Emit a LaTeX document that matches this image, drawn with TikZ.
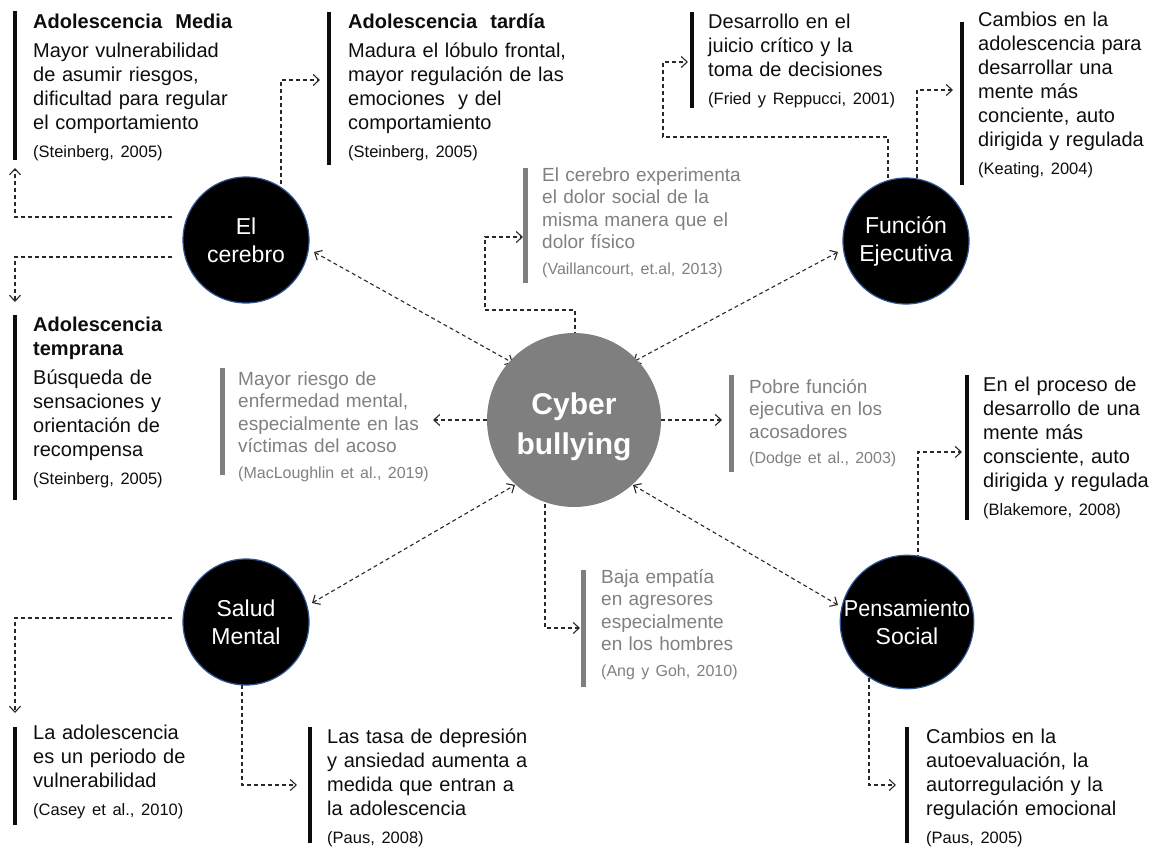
\documentclass[tikz,border=0pt]{standalone}
\usepackage{fontspec}
\usepackage{graphicx}
\setmainfont{Liberation Sans}
\usetikzlibrary{arrows.meta,calc}
\definecolor{ctext}{RGB}{13,13,13}
\definecolor{cgtext}{RGB}{128,128,128}
\definecolor{cgbar}{RGB}{127,127,127}
\definecolor{cgray}{RGB}{127,127,127}
\definecolor{cblue}{RGB}{47,85,151}
\definecolor{cline}{RGB}{40,40,40}
\newcommand\fsz[2]{\fontsize{#1}{#2}\selectfont}
\newcommand\ttl[1]{{\bfseries #1\par}\vspace{5pt}}
\newcommand\cit[1]{\par\vspace{4pt}{\fsz{16.5}{24}#1\par}}
\newcommand\gcit[1]{\par\vspace{3pt}{\fsz{16}{22.5}#1\par}}
\pgfdeclarelayer{bg}
\pgfsetlayers{bg,main}
\begin{document}
\begin{tikzpicture}[x=1pt,y=-1pt,
  circ/.style={circle, fill=black, draw=cblue, line width=1.2pt, minimum size=126pt, inner sep=0pt, text=white, align=center, font=\fsz{23}{28}},
  cyb/.style={circle, fill=cgray, minimum size=174pt, inner sep=0pt},
  cybtext/.style={text=white, align=center, inner sep=0pt, font=\bfseries\fsz{30}{40}},
  blk/.style={anchor=base west, inner sep=0pt, text width=330pt, align=left, font=\fsz{20}{24}, text=ctext},
  gblk/.style={blk, font=\fsz{19}{22.5}, text=cgtext},
  bar/.style={line width=4pt, draw=ctext},
  gbar/.style={line width=5pt, draw=cgbar},
  tip/.tip={Straight Barb[length=6pt,width=11pt]},
  conn/.style={draw=cline, line width=1.1pt, dash pattern=on 4pt off 3pt, -tip},
  dconn/.style={conn, tip-tip}]
\useasboundingbox (0,0) rectangle (1165,849);

% circles
\node[circ] (cer) at (246,240) {El\\cerebro};
\node[circ] (fun) at (906,241) {Función\\Ejecutiva};
\node[circ] (sal) at (246,622) {Salud\\Mental};
\node[circ] (pen) at (907,622) {\scalebox{0.94}[1]{Pensamiento}\\Social};
\node[cyb] (cyb) at (574,420) {};
\node[cybtext] (cybt) at ($(cyb.center)+(0,7)$) {Cyber\\bullying};

% text blocks
\node[blk] (b1) at (33,28) {\ttl{Adolescencia\ \ Media}Mayor vulnerabilidad\\de asumir riesgos,\\dificultad para regular\\el comportamiento\cit{(Steinberg, 2005)}};
\node[blk] (b2) at (348,28) {\ttl{Adolescencia\ \ tardía}Madura el lóbulo frontal,\\mayor regulación de las\\emociones\ \ y del\\comportamiento\cit{(Steinberg, 2005)}};
\node[blk] (b3) at (708,28) {Desarrollo en el\\juicio crítico y la\\toma de decisiones\cit{(Fried y Reppucci, 2001)}};
\node[blk] (b4) at (978,26) {Cambios en la\\adolescencia para\\desarrollar una\\mente más\\conciente, auto\\dirigida y regulada\cit{(Keating, 2004)}};
\node[gblk] (b5) at (542,181) {El cerebro experimenta\\el dolor social de la\\misma manera que el\\dolor físico\gcit{(Vaillancourt, et.al, 2013)}};
\node[blk] (b6) at (33,331) {\ttl{Adolescencia\\temprana}Búsqueda de\\sensaciones y\\orientación de\\recompensa\cit{(Steinberg, 2005)}};
\node[gblk] (b7) at (238,385) {Mayor riesgo de\\enfermedad mental,\\especialmente en las\\víctimas del acoso\gcit{(MacLoughlin et al., 2019)}};
\node[gblk] (b8) at (749,393) {Pobre función\\ejecutiva en los\\acosadores\gcit{(Dodge et al., 2003)}};
\node[blk] (b9) at (983,391) {En el proceso de\\desarrollo de una\\mente más\\consciente, auto\\dirigida y regulada\cit{(Blakemore, 2008)}};
\node[gblk] (b10) at (601,583) {Baja empatía\\en agresores\\especialmente\\en los hombres\gcit{(Ang y Goh, 2010)}};
\node[blk] (b11) at (33,739) {La adolescencia\\es un periodo de\\vulnerabilidad\cit{(Casey et al., 2010)}};
\node[blk] (b12) at (327,743) {Las tasa de depresión\\y ansiedad aumenta a\\medida que entran a\\la adolescencia\cit{(Paus, 2008)}};
\node[blk] (b13) at (926,743) {Cambios en la\\autoevaluación, la\\autorregulación y la\\regulación emocional\cit{(Paus, 2005)}};

% bars
\draw[bar] (15,11) -- (15,160);
\draw[bar] (329,12) -- (329,165);
\draw[bar] (692,12) -- (692,108);
\draw[bar] (962,22) -- (962,185);
\draw[gbar] (525,168) -- (525,283);
\draw[bar] (15,315) -- (15,500);
\draw[gbar] (222,368) -- (222,475);
\draw[gbar] (731,375) -- (731,472);
\draw[bar] (967,375) -- (967,520);
\draw[gbar] (583,570) -- (583,687);
\draw[bar] (15,727) -- (15,825);
\draw[bar] (310,727) -- (310,843);
\draw[bar] (907,727) -- (907,843);

% arrow tip coordinates and corners
\coordinate (t1) at (15,168);
\coordinate (t2) at (15,302);
\coordinate (t3) at (320,80);
\coordinate (k4) at (663,137);
\coordinate (t4) at (688,62);
\coordinate (t5) at (953,90);
\coordinate (k6) at (485,310);
\coordinate (t6) at (523,237);
\coordinate (t7) at (433,420);
\coordinate (t8) at (722,420);
\coordinate (t9) at (580,628);
\coordinate (t10) at (15,713);
\coordinate (t11) at (297,785);
\coordinate (t12) at (962,452);
\coordinate (t13) at (896,785);

\begin{pgfonlayer}{bg}
\draw[conn] ($(cer.west)+(-10,-23)$) -| (t1);
\draw[conn] ($(cer.west)+(-10,17)$) -| (t2);
\draw[conn] ($(cer.center)+(35,0)$) |- (t3);
\draw[conn] ($(fun.center)+(-18,0)$) |- (k4) |- (t4);
\draw[conn] ($(fun.center)+(11,0)$) |- (t5);
\draw[conn] ($(cyb.center)+(1,0)$) |- (k6) |- (t6);
\draw[conn] (cyb.west) -- (t7);
\draw[conn] (cyb.east) -- (t8);
\draw[conn] ($(cyb.center)+(-29,0)$) |- (t9);
\draw[conn] ($(sal.west)+(-10,-4)$) -| (t10);
\draw[conn] ($(sal.center)+(-4,0)$) |- (t11);
\draw[conn] ($(pen.center)+(11,0)$) |- (t12);
\draw[conn] ($(pen.center)+(-38,0)$) |- (t13);
\draw[dconn] ($(cer.center)+(68,12)$) -- ($(cyb.center)+(-61,-57)$);
\draw[dconn] ($(fun.center)+(-68,11)$) -- ($(cyb.center)+(59,-58)$);
\draw[dconn] ($(sal.center)+(66,-19)$) -- ($(cyb.center)+(-59,65)$);
\draw[dconn] ($(cyb.center)+(59,65)$) -- ($(pen.center)+(-69,-17)$);
\end{pgfonlayer}
\end{tikzpicture}
\end{document}
